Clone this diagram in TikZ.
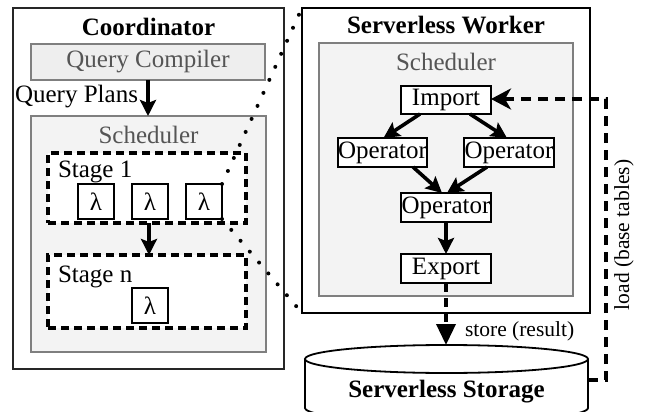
\documentclass[tikz,border=0pt]{standalone}
\usepackage{fontspec}
\setmainfont{Liberation Serif}
\usetikzlibrary{arrows.meta,calc}
\definecolor{boxgray}{HTML}{7F7F7F}
\definecolor{txtgray}{HTML}{555555}
\definecolor{fillA}{HTML}{EEEEEE}
\definecolor{fillB}{HTML}{F3F3F3}
\begin{document}
\begin{tikzpicture}[x=1pt,y=-1pt,
  every node/.style={inner sep=0pt, outer sep=0pt},
  font=\fontsize{25}{30}\selectfont,
  outerbox/.style={draw=black!85, line width=1.8pt, fill=white},
  graybox/.style={draw=boxgray, line width=1.8pt},
  graytext/.style={text=txtgray},
  titletext/.style={font=\fontsize{25}{30}\selectfont\bfseries},
  stagebox/.style={draw, line width=3.6pt, dash pattern=on 8pt off 5pt, fill=white},
  lambox/.style={draw, line width=1.8pt, fill=white, minimum width=36pt, minimum height=35pt},
  opbox/.style={draw, line width=1.8pt, fill=white, minimum width=90pt, minimum height=29pt},
  flow/.style={line width=3.6pt, -{Stealth[length=16pt,width=16pt,inset=3pt]}},
  dotline/.style={line width=4pt, line cap=round, dash pattern=on 0pt off 14.3pt},
  smalltext/.style={font=\fontsize{21.5}{26}\selectfont}
]
\useasboundingbox (0,0) rectangle (646,412);

% ---------------- Coordinator ----------------
\node[outerbox, minimum width=271pt, minimum height=361pt] (coord) at (148.5,188.5) {};
\node[titletext] (coordT) at (148.5,27) {Coordinator};
\node[graybox, fill=fillA, graytext, minimum width=234pt, minimum height=36pt] (qc) at (148,62) {Query Compiler};
\node[graybox, fill=fillB, minimum width=235pt, minimum height=236pt] (schL) at (148.5,234) {};
\node[graytext] (schLT) at (148.5,135) {Scheduler};
\draw[flow] (qc.south) -- (qc.south |- schL.north);
\node[anchor=east] (qp) at (138,97) {Query Plans};

\node[stagebox, minimum width=198pt, minimum height=70pt] (st1) at (147,188) {};
\node[anchor=west] (st1T) at (58,172) {Stage 1};
\node[lambox] (lam1) at (96,201.5) {λ};
\node[lambox] (lam2) at (150,201.5) {λ};
\node[lambox] (lam3) at (204,201.5) {λ};

\node[stagebox, minimum width=198pt, minimum height=73pt] (stn) at (147,291.5) {};
\node[anchor=west] (stnT) at (58,277) {Stage n};
\node[lambox] (lam4) at (150,305.5) {λ};
\draw[flow] ([xshift=2pt]st1.south) -- ([xshift=2pt]stn.north);

% ---------------- Serverless Worker ----------------
\node[outerbox, draw=black, minimum width=288pt, minimum height=305pt] (wk) at (446,160.5) {};
\node[titletext] (wkT) at (446,25) {Serverless Worker};
\node[graybox, fill=fillB, minimum width=254pt, minimum height=253pt] (schR) at (446,169.5) {};
\node[graytext] (schRT) at (446,62) {Scheduler};

\node[opbox, minimum height=28pt] (imp) at (446,100) {Import};
\node[opbox, minimum width=89pt] (opl) at (382.5,152.5) {Operator};
\node[opbox] (opr) at (509,152.5) {Operator};
\node[opbox] (opc) at (446,207.5) {Operator};
\node[opbox] (exp) at (446,268.5) {Export};

\draw[flow] ([xshift=-26pt]imp.south) -- ([xshift=1pt]opl.north);
\draw[flow] ([xshift=24pt]imp.south) -- ([xshift=-2pt]opr.north);
\draw[flow] ([xshift=-14pt]opl.south east) -- ([xshift=-4pt]opc.north);
\draw[flow] ([xshift=-22pt]opr.south) -- ([xshift=1pt]opc.north);
\draw[flow] (opc.south) -- (exp.north);

% ---------------- Serverless Storage ----------------
\draw[line width=1.8pt, fill=white] (305,359) -- (305,408) arc[start angle=180, end angle=360, x radius=141.5pt, y radius=14pt] -- (588,359);
\draw[line width=1.8pt, fill=white] (446.5,359) ellipse[x radius=141.5pt, y radius=14pt];
\node[titletext] (stor) at (446.5,392) {Serverless Storage};
\coordinate (stTop) at (446,345);
\coordinate (stRight) at (588,380);
\coordinate (ldB) at (606,380);
\coordinate (ldT) at (606,99);

\draw[line width=3.6pt, dash pattern=on 9pt off 6pt, -{Triangle[length=21pt,width=19pt]}] (exp.south) -- (stTop);
\node[smalltext, anchor=west] (storeL) at (465,331) {store (result)};

\draw[line width=3.6pt, dash pattern=on 10pt off 7pt, -{Stealth[length=20pt,width=21pt,inset=6pt]}] (stRight) -- (ldB) -- (ldT) -- (ldT -| imp.east);
\node[smalltext, rotate=90] (loadL) at (624,235) {load (base tables)};

% ---------------- dotted zoom lines ----------------
\draw[dotline] (lam3.north east) -- (wk.north west);
\draw[dotline] (lam3.south east) -- (wk.south west);
\end{tikzpicture}
\end{document}
